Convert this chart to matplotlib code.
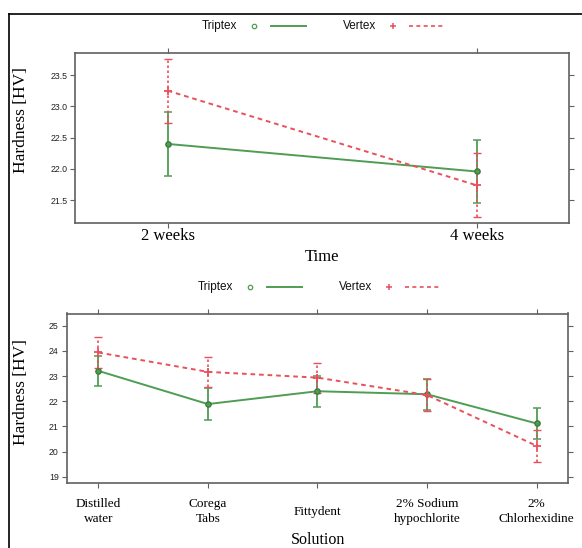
import matplotlib
matplotlib.use("Agg")
import matplotlib.pyplot as plt
from matplotlib.lines import Line2D
import numpy as np

# ---------------- data ----------------
times = ["2 weeks", "4 weeks"]
triptex_time = [22.40, 21.96]
triptex_time_err = [0.51, 0.51]
vertex_time = [23.25, 21.74]
vertex_time_err = [0.51, 0.51]

solutions = ["Distilled\nwater", "Corega\nTabs", "Fittydent",
             "2% Sodium\nhypochlorite", "2%\nChlorhexidine"]
triptex_sol = [23.21, 21.89, 22.40, 22.28, 21.12]
triptex_sol_err = [0.61, 0.63, 0.62, 0.62, 0.62]
vertex_sol = [23.94, 23.17, 22.94, 22.25, 20.23]
vertex_sol_err = [0.61, 0.60, 0.60, 0.62, 0.63]

top_yticks = [21.5, 22.0, 22.5, 23.0, 23.5]
bot_yticks = [19, 20, 21, 22, 23, 24, 25]

# ---------------- style ----------------
W, H = 582, 548
GREEN = "#4f9d53"
RED = "#e8505c"
AXC = "#606060"
SERIF = "Liberation Serif"
SANS = "Liberation Sans"
DASH = (0, (2.4, 2.0))

fig = plt.figure(figsize=(W / 100, H / 100), dpi=100)
fig.patch.set_facecolor("white")


def fx(px):
    return px / W


def fy(py):
    return 1 - py / H


def panel(rect, cats, trip, trip_err, vert, vert_err, yticks, ylim, xlim,
          labsize, labpad, linesp):
    ax = fig.add_axes(rect)
    x = np.arange(1, len(cats) + 1)
    # error bars
    ax.errorbar(x, trip, yerr=trip_err, fmt="none", ecolor=GREEN,
                elinewidth=1.3, capsize=2.9, capthick=1.1, zorder=2)
    e2 = ax.errorbar(x, vert, yerr=vert_err, fmt="none", ecolor=RED,
                     elinewidth=1.2, capsize=2.9, capthick=1.0, zorder=2)
    for lc in e2[2]:
        lc.set_linestyle((0, (1.5, 1.5)))
    # lines
    ax.plot(x, trip, color=GREEN, lw=1.4, marker="o", ms=3.8,
            mfc=GREEN, mec="#3d7d40", zorder=3)
    ax.plot(x, vert, color=RED, lw=1.4, linestyle=DASH, marker="+", ms=6,
            mew=1.3, zorder=3)
    ax.set_xlim(*xlim)
    ax.set_ylim(*ylim)
    ax.set_xticks(x)
    ax.set_xticklabels(cats, fontsize=labsize, family=SERIF,
                       linespacing=linesp)
    for t in ax.get_xticklabels():
        t.set_va("center")
    ax.set_yticks(yticks)
    ax.set_yticklabels([("%g" % v) if isinstance(v, int) else ("%.1f" % v)
                        for v in yticks], fontsize=6.3, family=SANS,
                       color="#222222")
    ax.tick_params(axis="x", which="both", direction="out", length=3.6,
                   width=0.8, color=AXC, top=True, bottom=True,
                   labeltop=False, pad=labpad)
    ax.tick_params(axis="y", which="both", direction="out", length=3.6,
                   width=0.8, color=AXC, left=True, right=True,
                   labelright=False, pad=2)
    for s in ax.spines.values():
        s.set_color(AXC)
        s.set_linewidth(1.2)
    return ax


# top panel
ax1 = panel([fx(75), fy(222.5), fx(569.3) - fx(75), fy(52.7) - fy(222.5)],
            times, triptex_time, triptex_time_err, vertex_time,
            vertex_time_err, top_yticks, (21.146, 23.856), (0.7, 2.3),
            12, 6.1, 1.2)
# bottom panel
ax2 = panel([fx(66.5), fy(482.8), fx(568.3) - fx(66.5), fy(313.5) - fy(482.8)],
            solutions, triptex_sol, triptex_sol_err, vertex_sol,
            vertex_sol_err, bot_yticks, (18.76, 25.49), (0.71, 5.29),
            9.5, 17.3, 1.3)

# axis titles
fig.text(fx(21), fy(120), "Hardness [HV]", rotation=90, ha="center",
         va="center", fontsize=12.5, family=SERIF)
fig.text(fx(21), fy(392), "Hardness [HV]", rotation=90, ha="center",
         va="center", fontsize=12.5, family=SERIF)
fig.text(fx(322), fy(257), "Time", ha="center", va="center", fontsize=12,
         family=SERIF)
fig.text(fx(318), fy(540), "Solution", ha="center", va="center",
         fontsize=11.5, family=SERIF)


# legends (lattice-style key: text, symbol, line)
def key(yc, dx):
    fig.text(fx(219.4 + dx), fy(yc), "Triptex", ha="center", va="center",
             fontsize=8.5, family=SANS, color="#111111")
    fig.add_artist(Line2D([fx(254 + dx)], [fy(yc)], marker="o", ms=3.2,
                          mfc="none", mec=GREEN, mew=0.9,
                          transform=fig.transFigure))
    fig.add_artist(Line2D([fx(270.7 + dx), fx(306 + dx)], [fy(yc), fy(yc)],
                          color=GREEN, lw=1.4, transform=fig.transFigure))
    fig.text(fx(359.2 + dx), fy(yc), "Vertex", ha="center", va="center",
             fontsize=8.5, family=SANS, color="#111111")
    fig.add_artist(Line2D([fx(392.7 + dx)], [fy(yc)], marker="+", ms=5,
                          mec=RED, mew=1.1, transform=fig.transFigure))
    fig.add_artist(Line2D([fx(409 + dx), fx(444 + dx)], [fy(yc), fy(yc)],
                          color=RED, lw=1.2, linestyle=DASH,
                          transform=fig.transFigure))


key(26, 0)
key(286.7, -3.8)

# outer frame (top and left edges)
fig.add_artist(Line2D([fx(9), 1.0], [fy(14), fy(14)], color="black", lw=1.2,
                      transform=fig.transFigure))
fig.add_artist(Line2D([fx(9), fx(9)], [fy(14), 0.0], color="black", lw=1.2,
                      transform=fig.transFigure))

fig.savefig("out.png", dpi=100)
